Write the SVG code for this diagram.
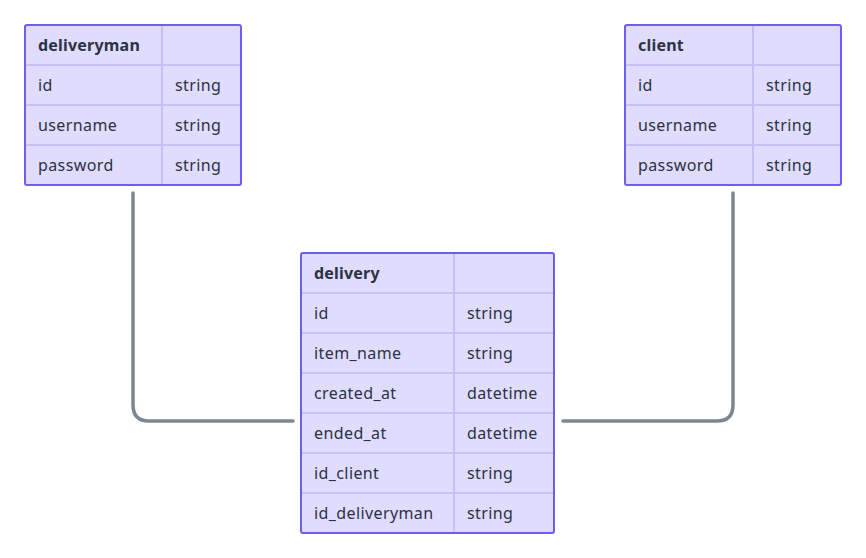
<svg xmlns="http://www.w3.org/2000/svg" width="866" height="558" viewBox="0 0 866 558">
<style>
.box{fill:#e0dcfd;stroke:#6e5ef0;stroke-width:2}
.div{stroke:#c6bffa;stroke-width:2;fill:none}
.t{font-family:"Noto Sans","DejaVu Sans",sans-serif;font-size:16px;fill:#2a3344;letter-spacing:0.4px}
.h{font-weight:bold;letter-spacing:0.2px}
.edge{fill:none;stroke:#7b8894;stroke-width:3.5;stroke-linecap:round}
</style>
<rect width="866" height="558" fill="#ffffff"/>
<g id="connectors">
<path class="edge" d="M133,193 V405 Q133,421 149,421 H293"/>
<path class="edge" d="M733,193 V405 Q733,421 717,421 H563"/>
</g>
<g id="deliveryman">
<rect class="box" x="25" y="25" width="216" height="160" rx="2"/>
<path class="div" d="M26,65 H240 M26,105 H240 M26,145 H240 M162,26 V184"/>
<text class="t h" x="38" y="51">deliveryman</text>
<text class="t" x="38" y="91">id</text><text class="t" x="175" y="91">string</text>
<text class="t" x="38" y="131">username</text><text class="t" x="175" y="131">string</text>
<text class="t" x="38" y="171">password</text><text class="t" x="175" y="171">string</text>
</g>
<g id="client">
<rect class="box" x="625" y="25" width="216" height="160" rx="2"/>
<path class="div" d="M626,65 H840 M626,105 H840 M626,145 H840 M753,26 V184"/>
<text class="t h" x="638" y="51">client</text>
<text class="t" x="638" y="91">id</text><text class="t" x="766" y="91">string</text>
<text class="t" x="638" y="131">username</text><text class="t" x="766" y="131">string</text>
<text class="t" x="638" y="171">password</text><text class="t" x="766" y="171">string</text>
</g>
<g id="delivery">
<rect class="box" x="301" y="253" width="253" height="280" rx="2"/>
<path class="div" d="M302,293 H553 M302,333 H553 M302,373 H553 M302,413 H553 M302,453 H553 M302,493 H553 M454,254 V532"/>
<text class="t h" x="314" y="279">delivery</text>
<text class="t" x="314" y="319">id</text><text class="t" x="467" y="319">string</text>
<text class="t" x="314" y="359">item_name</text><text class="t" x="467" y="359">string</text>
<text class="t" x="314" y="399">created_at</text><text class="t" x="467" y="399">datetime</text>
<text class="t" x="314" y="439">ended_at</text><text class="t" x="467" y="439">datetime</text>
<text class="t" x="314" y="479">id_client</text><text class="t" x="467" y="479">string</text>
<text class="t" x="314" y="519">id_deliveryman</text><text class="t" x="467" y="519">string</text>
</g>
</svg>
